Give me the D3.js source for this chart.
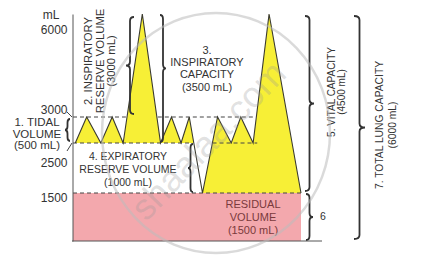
<!DOCTYPE html>
<html>
<head>
<meta charset="utf-8">
<script src="https://cdn.jsdelivr.net/npm/d3@7"></script>
<style>
body { margin: 0; background: #fff; }
svg { display: block; font-family: "Liberation Sans", Arial, Helvetica, sans-serif; }
</style>
</head>
<body>
<div id="chart"></div>
<script>
var width = 421, height = 269;

// spirogram trace: time (s) and lung volume (mL)
var times   = [0.5, 3, 6.1, 8.6, 11, 15.2, 19.2, 21.6, 23.7, 25.5, 28.4, 31.7, 34.7, 36.8, 39.5, 43, 50];
var volumes = [2500, 3000, 2500, 3000, 2500, 6000, 2500, 3000, 2500, 3000, 1500, 3000, 2500, 3000, 2500, 6000, 1500];

var tickValues = [1500, 2500, 3000, 6000];

// dashed reference levels (mL) and their time spans (s)
var guideLevel = [3000, 3000, 2500, 2500, 1500];
var guideFrom  = [0, 18.6, 0, 30.6, 0];
var guideTo    = [11.6, 40, 25.9, 40.4, 50];

// braces: top and bottom volume (mL)
var braceTop    = [3000, 6000, 6000, 2500, 6000, 1500, 6000];
var braceBottom = [2500, 3000, 2500, 1500, 1500, 0, 0];

var data = times.map(function(t, i) { return {t: t, v: volumes[i]}; });

var x = d3.scaleLinear().domain([0, 50]).range([73, 301]);
// schematic, non-uniform volume axis
var y = d3.scaleLinear().domain([0, 1500, 2500, 3000, 6000]).range([241, 193, 143, 117, 14]);

var svg = d3.select('#chart').append('svg')
    .attr('width', width)
    .attr('height', height);

// residual volume block
svg.append('rect')
    .attr('x', x(0))
    .attr('y', y(1500))
    .attr('width', x(50) - x(0))
    .attr('height', y(0) - y(1500))
    .attr('fill', '#f3a8ad');

// yellow fill: above 2500 before the forced expiration, above 1500 after it
var tDip = times[volumes.indexOf(d3.min(volumes))];
var clip = svg.append('clipPath').attr('id', 'fillclip');
clip.append('rect').attr('x', x(0)).attr('y', 0)
    .attr('width', x(tDip) - x(0)).attr('height', y(2500));
clip.append('rect').attr('x', x(tDip)).attr('y', 0)
    .attr('width', x(50) - x(tDip) + 2).attr('height', y(1500));

var area = d3.area()
    .x(function(d) { return x(d.t); })
    .y0(y(1500))
    .y1(function(d) { return y(d.v); });

svg.append('path')
    .datum(data)
    .attr('clip-path', 'url(#fillclip)')
    .attr('fill', '#f7ef36')
    .attr('d', area);

// dashed guides
svg.selectAll('.guide')
    .data(guideLevel).enter().append('line')
    .attr('class', 'guide')
    .attr('x1', function(d, i) { return x(guideFrom[i]); })
    .attr('x2', function(d, i) { return x(guideTo[i]); })
    .attr('y1', function(d) { return y(d); })
    .attr('y2', function(d) { return y(d); })
    .attr('stroke', '#444')
    .attr('stroke-width', 1)
    .attr('stroke-dasharray', '4,3');

// trace
var line = d3.line()
    .x(function(d) { return x(d.t); })
    .y(function(d) { return y(d.v); });

svg.append('path')
    .datum(data)
    .attr('fill', 'none')
    .attr('stroke', '#3a3a30')
    .attr('stroke-width', 1.1)
    .attr('stroke-linejoin', 'miter')
    .attr('d', line);

// y axis
var labelDy = {6000: 19, 3000: -4, 2500: 23, 1500: 8};
var axis = svg.append('g')
    .attr('transform', 'translate(72.5,0)')
    .call(d3.axisLeft(y).tickValues(tickValues).tickSize(0).tickSizeOuter(0).tickPadding(5)
        .tickFormat(d3.format('d')));
axis.select('.domain').attr('stroke', '#555');
axis.selectAll('text')
    .attr('dy', function(d) { return labelDy[d]; })
    .attr('fill', '#333')
    .style('font-size', '12px')
    .style('font-family', '"Liberation Sans", Arial, sans-serif');

svg.append('text')
    .attr('x', 51).attr('y', 19)
    .attr('text-anchor', 'middle')
    .attr('fill', '#333')
    .style('font-size', '12px')
    .text('mL');

// small leader lines from labels
svg.append('path')
    .attr('d', 'M67,' + (y(3000) - 5) + 'L72,' + y(3000) +
               'M67,' + (y(2500) + 8) + 'L72,' + y(2500))
    .attr('stroke', '#444')
    .attr('fill', 'none');

// baseline
svg.append('line')
    .attr('x1', 72).attr('x2', 322)
    .attr('y1', y(0)).attr('y2', y(0))
    .attr('stroke', '#555');

// braces
function bracePath(bx, ya, yb, w, f) {
  var ym = ya + (yb - ya) * f, h = w / 2, c = Math.min(4, (yb - ya) / 6);
  return 'M' + bx + ',' + ya +
    'Q' + (bx + h) + ',' + ya + ' ' + (bx + h) + ',' + (ya + c) +
    'L' + (bx + h) + ',' + (ym - c) +
    'Q' + (bx + h) + ',' + ym + ' ' + (bx + w) + ',' + ym +
    'Q' + (bx + h) + ',' + ym + ' ' + (bx + h) + ',' + (ym + c) +
    'L' + (bx + h) + ',' + (yb - c) +
    'Q' + (bx + h) + ',' + yb + ' ' + bx + ',' + yb;
}
var braceX   = [70, 134, 160, 193, 305, 306, 354];
var braceW   = [-5, -8, 6, -5, 9, 7, 11];
var braceF   = [0.5, 0.5, 0.42, 0.5, 0.5, 0.5, 0.5];
var braceGap = [2, 3, 1, 1, 2, 1, 2];

svg.selectAll('.brace')
    .data(braceTop).enter().append('path')
    .attr('class', 'brace')
    .attr('d', function(d, i) {
      return bracePath(braceX[i], y(d) + braceGap[i], y(braceBottom[i]) - braceGap[i], braceW[i], braceF[i]);
    })
    .attr('fill', 'none')
    .attr('stroke', '#333')
    .attr('stroke-width', 1.8);

// labels
function label(lines, cx, baselines, size, color, rotate) {
  var g = svg.append('g')
      .attr('transform', rotate ? 'translate(0,' + cx + ') rotate(-90)' : null);
  g.selectAll('text')
      .data(lines).enter().append('text')
      .attr('x', rotate ? 0 : cx)
      .attr('y', function(d, i) { return baselines[i]; })
      .attr('text-anchor', 'middle')
      .attr('fill', color || '#333')
      .style('font-size', size + 'px')
      .text(function(d) { return d; });
}

label(['1. TIDAL', 'VOLUME', '(500 mL)'], 37, [126, 137.5, 148.5], 11.5);
label(['2. INSPIRATORY', 'RESERVE VOLUME', '(3000 mL)'], 61, [91.5, 103.5, 115], 11.3, '#333', true);
label(['3.', 'INSPIRATORY', 'CAPACITY', '(3500 mL)'], 207, [54, 66, 78, 90.5], 11);
label(['4. EXPIRATORY', 'RESERVE VOLUME', '(1000 mL)'], 128, [160, 173, 186], 10.5);
label(['RESIDUAL', 'VOLUME', '(1500 mL)'], 253, [207.5, 221, 234], 11, '#7a3a3c');
label(['5. VITAL CAPACITY', '(4500 mL)'], 92, [335, 345], 10, '#333', true);
label(['6'], 323, [220], 10.5);
label(['7. TOTAL LUNG CAPACITY', '(6000 mL)'], 125, [383, 396], 10.3, '#333', true);

// watermark
svg.append('ellipse')
    .attr('cx', 216).attr('cy', 133)
    .attr('rx', 114).attr('ry', 120)
    .attr('fill', 'none')
    .attr('stroke', '#bbb')
    .attr('stroke-opacity', 0.55)
    .attr('stroke-width', 2.5);

svg.append('text')
    .attr('transform', 'translate(208,140) rotate(-46)')
    .attr('text-anchor', 'middle')
    .attr('dy', '0.35em')
    .attr('fill', '#999')
    .attr('fill-opacity', 0.3)
    .style('font-size', '36px')
    .text('shaalaa.com');
</script>
</body>
</html>
